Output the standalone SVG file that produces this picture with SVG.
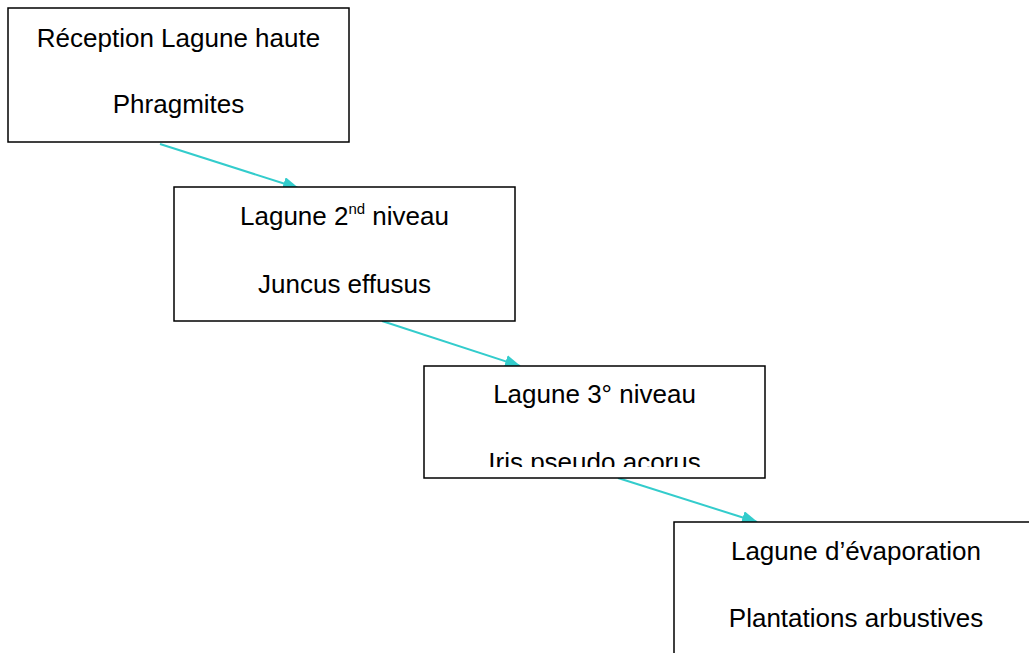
<svg xmlns="http://www.w3.org/2000/svg" width="1029" height="653" viewBox="0 0 1029 653">
<style>
.box{fill:#fff;stroke:#000;stroke-width:1.5}
.t{font-family:"Liberation Sans",Arial,sans-serif;font-size:26px;fill:#000;text-anchor:middle}
.c{stroke:#33CCCC;stroke-width:2;fill:none;marker-end:url(#ah)}
</style>
<defs>
<marker id="ah" viewBox="0 0 16 13" refX="15" refY="6.5" markerWidth="16" markerHeight="13" markerUnits="userSpaceOnUse" orient="auto">
<path d="M0,0 L16,6.5 L0,13 Z" fill="#33CCCC"/>
</marker>
<clipPath id="clip3"><rect x="424" y="366" width="341" height="101"/></clipPath>
</defs>
<rect width="1029" height="653" fill="#fff"/>
<g id="connectors">
<path class="c" d="M160,144 L298,188"/>
<path class="c" d="M382,321 L520,366"/>
<path class="c" d="M618,478 L757,522"/>
</g>
<g id="node1">
<rect class="box" x="8" y="8" width="341" height="134"/>
<text class="t" x="178.5" y="47">Réception Lagune haute</text>
<text class="t" x="178.5" y="113">Phragmites</text>
</g>
<g id="node2">
<rect class="box" x="174" y="187" width="341" height="134"/>
<text class="t" x="344.5" y="225">Lagune 2<tspan font-size="15" dy="-11">nd</tspan><tspan dy="11"> niveau</tspan></text>
<text class="t" x="344.5" y="293">Juncus effusus</text>
</g>
<g id="node3">
<rect class="box" x="424" y="366" width="341" height="112"/>
<text class="t" x="594.5" y="403">Lagune 3° niveau</text>
<text class="t" x="594.5" y="471" clip-path="url(#clip3)">Iris pseudo acorus</text>
</g>
<g id="node4">
<rect class="box" x="674" y="522" width="370" height="140"/>
<text class="t" x="856" y="560">Lagune d’évaporation</text>
<text class="t" x="856" y="627">Plantations arbustives</text>
</g>
</svg>
